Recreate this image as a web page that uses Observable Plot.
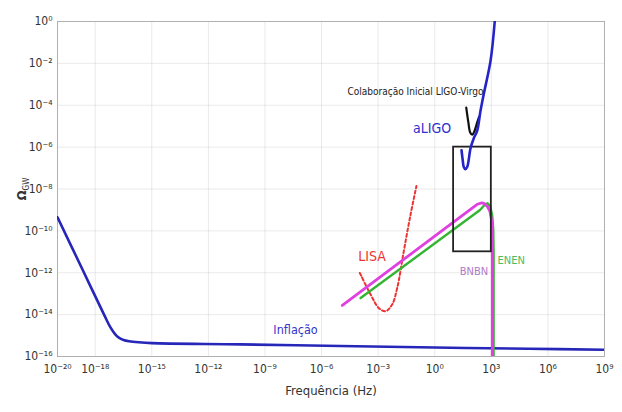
<!DOCTYPE html>
<html>
<head>
<meta charset="utf-8">
<script src="https://cdn.jsdelivr.net/npm/d3@7"></script>
<script src="https://cdn.jsdelivr.net/npm/@observablehq/plot@0.6"></script>
<style>
  html, body { margin: 0; padding: 0; background: #fff; }
  #chart { width: 622px; height: 412px; }
</style>
</head>
<body>
<div id="chart"></div>
<script>
// ---- data (log10 exponents) ----
const xTickExp = [-20, -18, -15, -12, -9, -6, -3, 0, 3, 6, 9];
const yTickExp = [-16, -14, -12, -10, -8, -6, -4, -2, 0];

const inflationF = [-20, -18.7, -17.5, -17.2, -16.95, -16.75, -16.5, -16.2, -15.7, -15, -10.3, -5, 0, 5, 9];
const inflationO = [-9.35, -11.8, -14.06, -14.6, -14.93, -15.1, -15.21, -15.27, -15.32, -15.36, -15.42, -15.5, -15.57, -15.63, -15.68];

const aligoF = [1.42, 1.48, 1.54, 1.62, 1.72, 1.90, 2.08, 2.25, 2.42, 2.6, 2.96, 3.18];
const aligoO = [-6.15, -6.6, -6.95, -7.05, -6.95, -6.05, -5.55, -5.22, -4.3, -3.46, -1.87, 0];

const ligoVirgoF = [1.67, 1.78, 1.88, 1.99, 2.1, 2.25, 2.35];
const ligoVirgoO = [-4.11, -4.8, -5.3, -5.41, -5.25, -4.82, -4.55];

const bnbnF = [-4.9, 2.25, 2.5, 2.64, 2.8, 2.92, 3.0, 3.04, 3.05, 3.05];
const bnbnO = [-13.56, -8.73, -8.66, -8.70, -8.85, -9.05, -9.4, -9.85, -11, -17];

const enenF = [-3.93, 2.4, 2.65, 2.8, 2.95, 3.05, 3.1, 3.12, 3.12];
const enenO = [-13.21, -9.0, -8.75, -8.68, -8.85, -9.3, -9.9, -11, -17];

const lisaF = [-3.97, -3.4, -2.96, -2.61, -2.26, -1.99, -1.64, -1.28, -0.97];
const lisaO = [-12.01, -13.04, -13.69, -13.84, -13.52, -12.73, -10.97, -9.21, -7.86];

const boxF = [1, 3];
const boxO = [-11, -6];

const labelTexts = ["Colaboração Inicial LIGO-Virgo", "aLIGO", "LISA", "BNBN", "ENEN", "Inflação"];
const labelF = [-1.02, -0.14, -3.32, 2.08, 4.05, -7.38];
const labelO = [-3.35, -5.13, -11.21, -11.93, -11.40, -14.72];

// ---- styles ----
const labelColors = ["#222222", "#2f2fd0", "#ee3333", "#b07ac8", "#4cbb5c", "#3434c8"];
const labelSizes = [10, 14, 14, 11, 11, 12.5];
const FONT = "'Liberation Sans Narrow', 'DejaVu Sans Condensed', 'Liberation Sans', sans-serif";

const sup = {"-": "⁻", "0": "⁰", "1": "¹", "2": "²", "3": "³", "4": "⁴", "5": "⁵", "6": "⁶", "7": "⁷", "8": "⁸", "9": "⁹"};
const pow10 = v => {
  const e = Math.round(Math.log10(v));
  return "10" + String(e).split("").map(c => sup[c]).join("");
};
const series = (F, O) => F.map((f, i) => ({x: 10 ** f, y: 10 ** O[i]}));

const inflation = series(inflationF, inflationO);
const aligo = series(aligoF, aligoO);
const ligoVirgo = series(ligoVirgoF, ligoVirgoO);
const bnbn = series(bnbnF, bnbnO);
const enen = series(enenF, enenO);
const lisa = series(lisaF, lisaO);
const box = [{x1: 10 ** boxF[0], x2: 10 ** boxF[1], y1: 10 ** boxO[0], y2: 10 ** boxO[1]}];
const labels = labelTexts.map((t, i) => ({t, x: 10 ** labelF[i], y: 10 ** labelO[i], c: labelColors[i], s: labelSizes[i]}));

const plot = Plot.plot({
  width: 622,
  height: 412,
  marginLeft: 57,
  marginRight: 18,
  marginTop: 21,
  marginBottom: 56,
  style: {fontFamily: FONT, fontSize: "12px", color: "#333", background: "#fff"},
  x: {
    type: "log",
    domain: [1e-20, 1e9],
    ticks: xTickExp.map(e => 10 ** e),
    tickFormat: pow10,
    tickSize: 0,
    tickPadding: 8,
    grid: true,
    label: "Frequência (Hz)",
    labelArrow: false,
    labelAnchor: "center",
    labelOffset: 38
  },
  y: {
    type: "log",
    domain: [1e-16, 1],
    ticks: yTickExp.map(e => 10 ** e),
    tickFormat: pow10,
    tickSize: 0,
    tickPadding: 5,
    grid: true,
    label: "ΩGW",
    labelArrow: false,
    labelAnchor: "center",
    labelOffset: 40
  },
  marks: [
    Plot.frame({stroke: "#b0b0b0"}),
    Plot.line(inflation, {x: "x", y: "y", stroke: "#2626b8", strokeWidth: 2.6, curve: "catmull-rom", clip: true}),
    Plot.line(lisa, {x: "x", y: "y", stroke: "#ee3333", strokeWidth: 2, strokeDasharray: "3,2.5", curve: "catmull-rom", clip: true}),
    Plot.line(enen, {x: "x", y: "y", stroke: "#33b533", strokeWidth: 2.4, clip: true}),
    Plot.line(bnbn, {x: "x", y: "y", stroke: "#e040e0", strokeWidth: 2.8, clip: true}),
    Plot.rect(box, {x1: "x1", x2: "x2", y1: "y1", y2: "y2", fill: "none", stroke: "#222", strokeWidth: 1.8}),
    Plot.line(ligoVirgo, {x: "x", y: "y", stroke: "#111", strokeWidth: 2.2, curve: "catmull-rom", clip: true}),
    Plot.line(aligo, {x: "x", y: "y", stroke: "#2424c8", strokeWidth: 2.6, curve: "catmull-rom", clip: true}),
    Plot.text(labels, {x: "x", y: "y", text: "t", fill: "c", fontSize: "s", fontFamily: FONT})
  ]
});

document.getElementById("chart").appendChild(plot);

// axis titles: subscript for Ω_GW, larger x title
d3.select(plot).selectAll("text").filter(function () { return this.textContent.trim() === "ΩGW"; })
  .each(function () {
    const t = d3.select(this);
    t.text("");
    t.append("tspan").text("Ω").attr("font-size", 13).attr("font-weight", "bold");
    t.append("tspan").text("GW").attr("font-size", 8).attr("dy", 3);
  });
d3.select(plot).selectAll("text").filter(function () { return this.textContent.trim() === "Frequência (Hz)"; })
  .attr("font-size", 13);
</script>
</body>
</html>
